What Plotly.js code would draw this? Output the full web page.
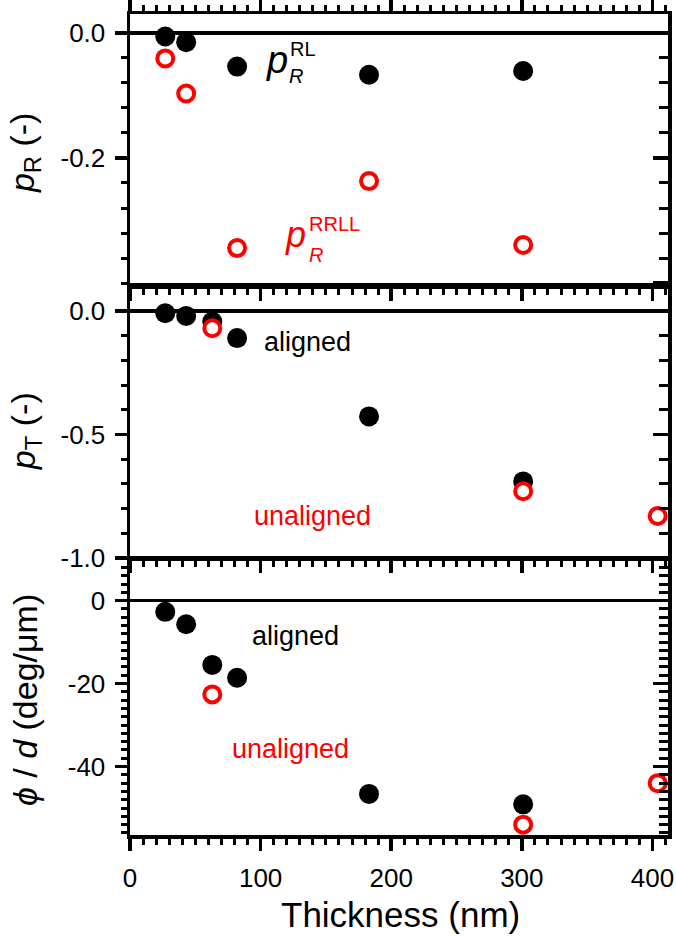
<!DOCTYPE html>
<html>
<head>
<meta charset="utf-8">
<script src="https://cdn.plot.ly/plotly-3.0.1.min.js"></script>
<style>html,body{margin:0;padding:0;background:#fff;}#chart{width:676px;height:936px;}</style>
</head>
<body>
<div id="chart"></div>
<script>
// ---- data ----
const thickness_RL = [27, 43, 82, 183, 301];
const pR_RL = [-0.006, -0.015, -0.054, -0.067, -0.061];
const thickness_RRLL = [27, 43, 82, 183, 301];
const pR_RRLL = [-0.041, -0.097, -0.344, -0.237, -0.339];

const thickness_T_aligned = [27, 43, 63, 82, 183, 301];
const pT_aligned = [-0.009, -0.02, -0.043, -0.11, -0.427, -0.69];
const thickness_T_unaligned = [63, 301, 404];
const pT_unaligned = [-0.07, -0.73, -0.83];

const thickness_phi_aligned = [27, 43, 63, 82, 183, 301];
const phi_aligned = [-2.7, -5.7, -15.5, -18.6, -46.6, -49.1];
const thickness_phi_unaligned = [63, 301, 404];
const phi_unaligned = [-22.6, -54.0, -44.0];

const xTickVals = [0, 100, 200, 300, 400];
const xTickText = ['0', '100', '200', '300', '400'];
const y1TickVals = [0, -0.2];
const y1TickText = ['0.0', '-0.2'];
const y2TickVals = [0, -0.5, -1.0];
const y2TickText = ['0.0', '-0.5', '-1.0'];
const y3TickVals = [0, -20, -40];
const y3TickText = ['0', '-20', '-40'];

// ---- styling ----
const FONT = 'Liberation Sans, Arial, sans-serif';
const RED = '#ff0000';
const xRange = [0, 411.9];
const y1Range = [-0.403, 0.03];
const y2Range = [-1.0, 0.097];
const y3Range = [-56.5, 9.8];

const blackMarker = {symbol: 'circle', size: 20, color: '#000'};
const redMarker = {symbol: 'circle', size: 16, color: '#fff', line: {color: RED, width: 4}};

const traces = [
  {x: thickness_RL, y: pR_RL, xaxis: 'x', yaxis: 'y', mode: 'markers', marker: blackMarker},
  {x: thickness_RRLL, y: pR_RRLL, xaxis: 'x', yaxis: 'y', mode: 'markers', marker: redMarker},
  {x: thickness_T_aligned, y: pT_aligned, xaxis: 'x2', yaxis: 'y2', mode: 'markers', marker: blackMarker},
  {x: thickness_T_unaligned, y: pT_unaligned, xaxis: 'x2', yaxis: 'y2', mode: 'markers', marker: redMarker},
  {x: thickness_phi_aligned, y: phi_aligned, xaxis: 'x3', yaxis: 'y3', mode: 'markers', marker: blackMarker},
  {x: thickness_phi_unaligned, y: phi_unaligned, xaxis: 'x3', yaxis: 'y3', mode: 'markers', marker: redMarker},
  // invisible copies so the right-side (inside tick) overlay axes are drawn
  {x: thickness_RL, y: pR_RL, xaxis: 'x', yaxis: 'y4', mode: 'markers', marker: {opacity: 0}, hoverinfo: 'skip'},
  {x: thickness_T_aligned, y: pT_aligned, xaxis: 'x2', yaxis: 'y5', mode: 'markers', marker: {opacity: 0}, hoverinfo: 'skip'},
  {x: thickness_phi_aligned, y: phi_aligned, xaxis: 'x3', yaxis: 'y6', mode: 'markers', marker: {opacity: 0}, hoverinfo: 'skip'}
];

const tickFont = {family: FONT, size: 26, color: '#000'};

function xAxis(anchor, mirror, labels) {
  return {
    anchor: anchor, range: xRange, domain: [0, 1],
    showline: true, linewidth: 3.5, linecolor: '#000', mirror: mirror,
    ticks: 'outside', ticklen: 12, tickwidth: 3.5, tickcolor: '#000',
    tickmode: 'array', tickvals: xTickVals, ticktext: xTickText,
    showticklabels: labels, tickfont: tickFont, ticklabelstandoff: 5,
    minor: {tickmode: 'linear', tick0: 0, dtick: 10, ticks: 'outside', ticklen: 6, tickwidth: 3, tickcolor: '#000'},
    showgrid: false, zeroline: false, fixedrange: true
  };
}
function yAxis(domain, range, tv, tt, minorD) {
  return {
    anchor: domain[2], domain: [domain[0], domain[1]], range: range,
    showline: true, linewidth: 3.5, linecolor: '#000', mirror: true,
    ticks: 'outside', ticklen: 12, tickwidth: 3.5, tickcolor: '#000',
    tickmode: 'array', tickvals: tv, ticktext: tt, tickfont: tickFont, ticklabelstandoff: 4,
    minor: {tickmode: 'linear', tick0: 0, dtick: minorD, ticks: 'outside', ticklen: 6, tickwidth: 3, tickcolor: '#000'},
    showgrid: false, zeroline: true, zerolinewidth: 3.5, zerolinecolor: '#000', fixedrange: true
  };
}
function yRight(over, anchor, range, majorD, minorD) {
  return {
    overlaying: over, anchor: anchor, side: 'right', range: range,
    showline: false, ticks: 'inside', ticklen: 15, tickwidth: 3.5, tickcolor: '#000',
    tickmode: 'linear', tick0: 0, dtick: majorD, showticklabels: false,
    minor: {tickmode: 'linear', tick0: 0, dtick: minorD, ticks: 'inside', ticklen: 9, tickwidth: 3, tickcolor: '#000'},
    showgrid: false, zeroline: false, fixedrange: true
  };
}

const d1 = [0.6699, 1, 'x'];
const d2 = [0.3374, 0.6675, 'x2'];
const d3 = [0, 0.3350, 'x3'];

function ann(text, x, y, xref, yref, size, color, opts) {
  return Object.assign({text: text, x: x, y: y, xref: xref, yref: yref, showarrow: false,
    font: {family: FONT, size: size, color: color}, xanchor: 'center', yanchor: 'middle'}, opts || {});
}

const annotations = [
  // panel 1 labels
  ann('<i>p</i>', 112.4, -0.043, 'x', 'y', 38, '#000'),
  ann('RL', 121, -0.026, 'x', 'y', 20, '#000', {xanchor: 'left'}),
  ann('<i>R</i>', 120.5, -0.069, 'x', 'y', 20, '#000', {xanchor: 'left'}),
  ann('<i>p</i>', 127, -0.323, 'x', 'y', 36, RED),
  ann('RRLL', 135.6, -0.306, 'x', 'y', 20, RED, {xanchor: 'left'}),
  ann('<i>R</i>', 135.2, -0.355, 'x', 'y', 20, RED, {xanchor: 'left'}),
  // panel 2 labels
  ann('aligned', 135.8, -0.1255, 'x2', 'y2', 27, '#000'),
  ann('unaligned', 140, -0.83, 'x2', 'y2', 27, RED),
  // panel 3 labels
  ann('aligned', 126.6, -8.6, 'x3', 'y3', 27, '#000'),
  ann('unaligned', 123.1, -35.8, 'x3', 'y3', 27, RED),
  // axis titles
  ann('<i>p</i><sub>R</sub> (-)', -0.195, 0.8307, 'paper', 'paper', 34, '#000', {textangle: -90}),
  ann('<i>p</i><sub>T</sub> (-)', -0.195, 0.492, 'paper', 'paper', 34, '#000', {textangle: -90}),
  ann('<i>\u03d5</i> / <i>d</i> (deg/\u03bcm)', -0.195, 0.1644, 'paper', 'paper', 34, '#000', {textangle: -90}),
  ann('Thickness (nm)', 0.502, -0.0974, 'paper', 'paper', 35, '#000')
];

const layout = {
  width: 676, height: 936,
  margin: {l: 130, r: 8, t: 14, b: 101},
  paper_bgcolor: '#fff', plot_bgcolor: '#fff',
  showlegend: false,
  font: {family: FONT, color: '#000'},
  xaxis: xAxis('y', 'ticks', false),
  xaxis2: xAxis('y2', true, false),
  xaxis3: xAxis('y3', true, true),
  yaxis: yAxis(d1, y1Range, y1TickVals, y1TickText, 0.04),
  yaxis2: yAxis(d2, y2Range, y2TickVals, y2TickText, 0.1),
  yaxis3: yAxis(d3, y3Range, y3TickVals, y3TickText, 2),
  yaxis4: yRight('y', 'x', y1Range, 0.2, 0.04),
  yaxis5: yRight('y2', 'x2', y2Range, 0.5, 0.1),
  yaxis6: yRight('y3', 'x3', y3Range, 20, 2),
  annotations: annotations
};

Plotly.newPlot('chart', traces, layout, {staticPlot: true, displayModeBar: false});
</script>
</body>
</html>
